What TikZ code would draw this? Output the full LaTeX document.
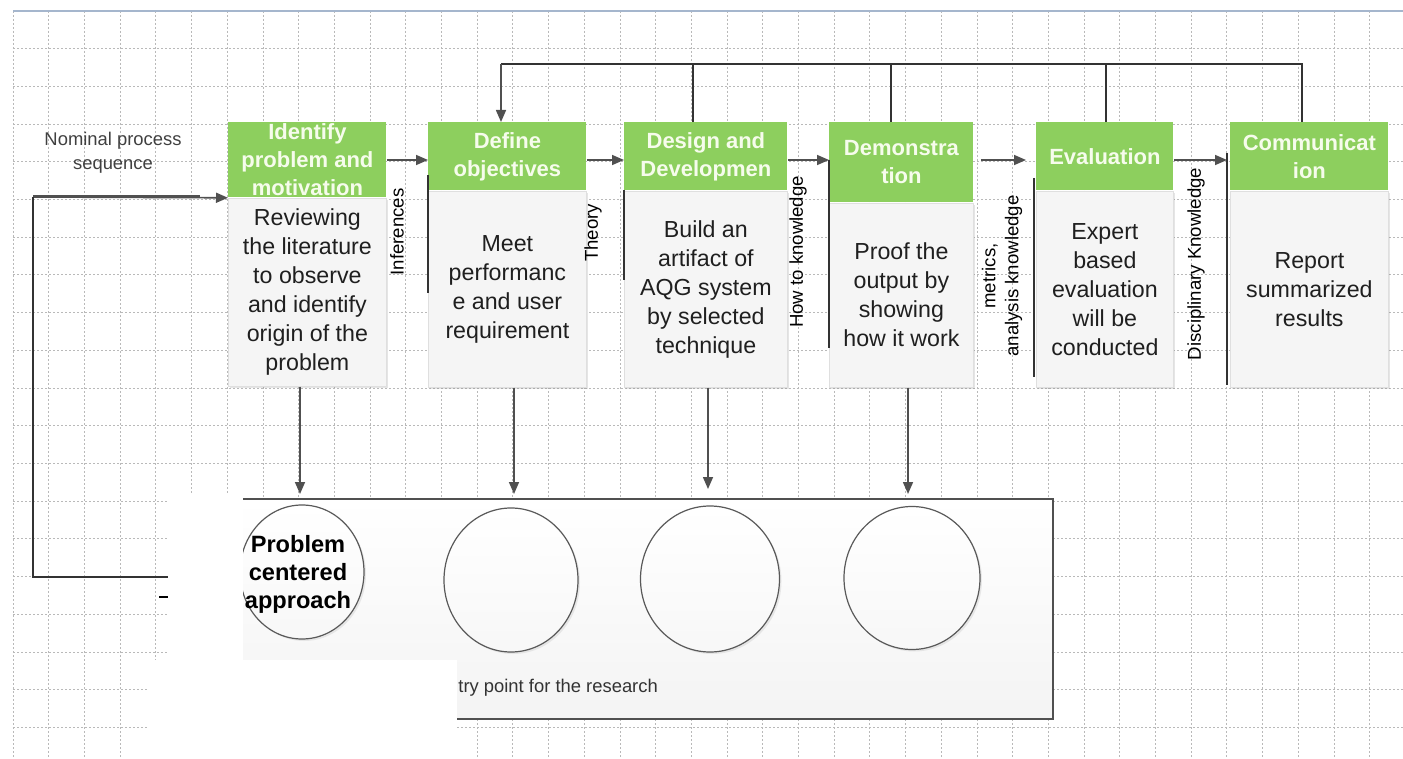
\documentclass[tikz,border=0pt]{standalone}
\usepackage{fontspec}
\setmainfont{Liberation Sans}
\usepackage{tikz}
\usetikzlibrary{calc,positioning,shapes.geometric,arrows.meta,shadows}
\definecolor{hdgreen}{RGB}{141,207,94}
\definecolor{hdtext}{RGB}{246,252,236}
\definecolor{bodyfill}{RGB}{245,245,245}
\definecolor{linegray}{RGB}{80,80,80}
\definecolor{gridgray}{RGB}{185,185,185}
\definecolor{topblue}{RGB}{165,182,205}

\begin{document}
\begin{tikzpicture}[x=0.5pt,y=-0.5pt,
    stagehead/.style={anchor=north west, fill=hdgreen, text=hdtext, align=center, inner sep=0pt,
      font=\fontsize{11}{14}\selectfont\bfseries},
    stagebody/.style={fill=bodyfill, draw=gray!25, text=black!88, align=center, inner sep=0pt,
      font=\fontsize{11.6}{14.5}\selectfont,
      drop shadow={shadow xshift=1pt, shadow yshift=-1pt, opacity=.2}},
    sidelabel/.style={rotate=90, align=center, inner sep=0pt, font=\fontsize{9.3}{11.5}\selectfont},
    arr/.style={draw=linegray, line width=.8pt, -{Triangle[length=6pt,width=5pt]}},
    ln/.style={draw=black!80, line width=.7pt},
    blob/.style={ellipse, draw=gray!70!black, line width=.6pt, top color=white, bottom color=gray!6,
      inner sep=0pt,
      drop shadow={shadow xshift=1pt, shadow yshift=-1pt, opacity=.15}},
    gridline/.style={draw=gridgray, line width=.4pt, dash pattern=on 1pt off 1pt}]
    \pgfmathsetmacro{\arry}{160}
    \pgfmathsetmacro{\fby}{64}

    \useasboundingbox (0,0) rectangle (1403,759);
    \fill[white] (0,0) rectangle (1403,759);

    % background grid
    \foreach \i in {0,...,38}
      \draw[gridline] ({13+35.7*\i},11) -- ({13+35.7*\i},759);
    \foreach \j in {1,...,19}
      \draw[gridline] (13,{11+37.7*\j}) -- (1403,{11+37.7*\j});
    \draw[topblue, line width=.7pt] (13,11) -- (1403,11);

    % stages
    \node[stagehead, minimum width=79pt, minimum height=37.5pt] (h1) at (228,122) {Identify\\problem and\\motivation};
    \node[stagebody, minimum width=79pt, minimum height=94pt, below=0pt of h1] (b1)
      {Reviewing\\the literature\\to observe\\and identify\\origin of the\\problem};
    \node[stagehead, minimum width=79pt, minimum height=34pt] (h2) at (428,122) {Define\\objectives};
    \node[stagebody, minimum width=79pt, minimum height=98pt, below=0pt of h2] (b2)
      {Meet\\performanc\\e and user\\requirement};
    \node[stagehead, minimum width=81.5pt, minimum height=34pt] (h3) at (624,122) {Design and\\Developmen};
    \node[stagebody, minimum width=81.5pt, minimum height=98pt, below=0pt of h3] (b3)
      {Build an\\artifact of\\AQG system\\by selected\\technique};
    \node[stagehead, minimum width=72pt, minimum height=40pt] (h4) at (829,122) {Demonstra\\tion};
    \node[stagebody, minimum width=72pt, minimum height=92pt, below=0pt of h4] (b4)
      {Proof the\\output by\\showing\\how it work};
    \node[stagehead, minimum width=68.5pt, minimum height=34pt] (h5) at (1036,122) {Evaluation};
    \node[stagebody, minimum width=68.5pt, minimum height=98pt, below=0pt of h5] (b5)
      {Expert\\based\\evaluation\\will be\\conducted};
    \node[stagehead, minimum width=79pt, minimum height=34pt] (h6) at (1230,122) {Communicat\\ion};
    \node[stagebody, minimum width=79pt, minimum height=98pt, below=0pt of h6] (b6)
      {Report\\summarized\\results};

    % nominal sequence
    \draw[arr] (h1.east |- 0,\arry) -- (h2.west |- 0,\arry);
    \draw[arr] (h2.east |- 0,\arry) -- (h3.west |- 0,\arry);
    \draw[arr] (h3.east |- 0,\arry) -- (h4.west |- 0,\arry);
    \draw[arr, shorten <=3.5pt, shorten >=5pt] (h4.east |- 0,\arry) -- (h5.west |- 0,\arry);
    \draw[arr, shorten >=1.5pt] (h5.east |- 0,\arry) -- (h6.west |- 0,\arry);

    % knowledge flows
    \draw[ln] (428,175) -- (428,293);
    \draw[ln] (624,190) -- (624,280);
    \draw[ln] (829,160) -- (829,348);
    \draw[ln] (1034,178) -- (1034,377);
    \draw[ln] (1227,153) -- (1227,385);
    \node[sidelabel] (linf) at (397,232) {Inferences};
    \node[sidelabel] (ltheo) at (593,233) {Theory};
    \node[sidelabel] (lhow) at (798,252) {How to knowledge};
    \node[sidelabel] (lmet) at (1002,276) {metrics,\\analysis knowledge};
    \node[sidelabel] (ldisc) at (1196,264) {Disciplinary Knowledge};

    % iteration back to objectives
    \coordinate (fb) at (501,\fby);
    \draw[ln] (h6.north -| 1302,0) |- (fb);
    \foreach \xx/\hh in {693/h3, 891/h4, 1106/h5}
      \draw[ln] (\hh.north -| \xx,0) -- (\xx,\fby);
    \draw[arr] (fb) -- (h2.north -| 501,0);

    % entry
    \node[font=\fontsize{9.2}{12}\selectfont, text=black!75, align=center] (nomlbl) at (113,153) {Nominal process\\sequence};
    \coordinate (nps) at (33,197);
    \draw[linegray, line width=1.5pt] (nps) -- (200,197);
    \draw[arr] (nps) -- (h1.south west);
    \draw[ln] (nps) |- (180,577);
    \draw[black, line width=1.2pt] (159,597) -- (168,597);

    % research entry points
    \node[anchor=north west, inner sep=0pt, minimum width=405pt, minimum height=109.5pt,
      top color=white, bottom color=gray!9,
      drop shadow={shadow xshift=1pt, shadow yshift=-1pt, opacity=.25}] (pool) at (242,499) {};
    \draw[linegray, line width=.8pt] (pool.north west) -- (pool.north east) -- (pool.south east) -- (pool.south west);
    \node[blob, minimum width=62pt, minimum height=67pt] (c1) at (302,572) {};
    \node[align=center, inner sep=0pt, font=\fontsize{11.8}{14}\selectfont\bfseries] (c1txt) at (298,574) {Problem\\centered\\approach};
    \node[blob, minimum width=67pt, minimum height=72pt] (c2) at (511,580) {};
    \node[blob, minimum width=69.5pt, minimum height=73pt] (c3) at (710,579) {};
    \node[blob, minimum width=68pt, minimum height=71.5pt] (c4) at (912,578) {};
    \draw[arr, shorten >=2.5pt] (b1.south -| 300,0) -- (pool.north -| 300,0);
    \draw[arr, shorten >=2.5pt] (b2.south -| 514,0) -- (pool.north -| 514,0);
    \draw[arr, shorten >=5pt] (b3.south -| 708,0) -- (pool.north -| 708,0);
    \draw[arr, shorten >=2.5pt] (b4.south -| 908,0) -- (pool.north -| 908,0);

    % masked parts
    \fill[white] (168,493) rectangle (243,660);
    \fill[white] (148,660) rectangle (457,759);
    \node[anchor=west, inner sep=0pt, text=black!80, font=\fontsize{9.2}{11}\selectfont] (entrylbl) at (458,688) {try point for the research};
\end{tikzpicture}
\end{document}
